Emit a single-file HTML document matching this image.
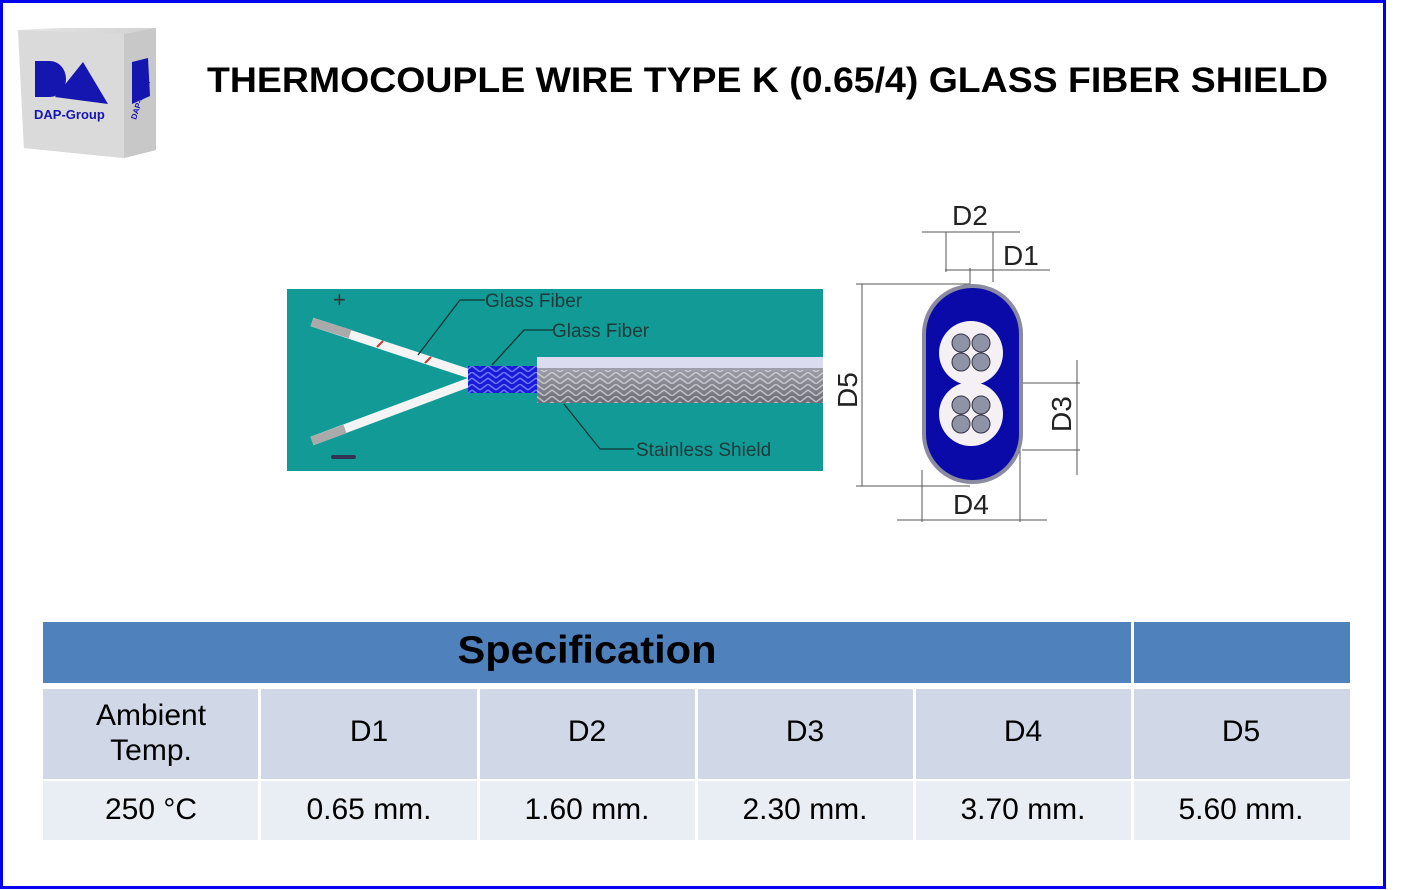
<!DOCTYPE html>
<html><head><meta charset="utf-8"><style>
body{margin:0;width:1408px;height:890px;background:#fff;overflow:hidden;font-family:"Liberation Sans",sans-serif}
svg{position:absolute;left:0;top:0}
</style></head><body>
<svg width="1408" height="890" viewBox="0 0 1408 890" font-family="Liberation Sans, sans-serif">
<defs>
<pattern id="hb" width="16" height="12" patternUnits="userSpaceOnUse">
<path d="M0 6 L8 0 M8 0 L16 6 M0 12 L8 6 M8 6 L16 12" stroke="#ddd" stroke-width="1.5" fill="none"/>
</pattern>
<pattern id="hb2" width="16" height="12" patternUnits="userSpaceOnUse">
<path d="M0 6 L8 0 M8 0 L16 6 M0 12 L8 6 M8 6 L16 12" stroke="#6a7cff" stroke-width="1.5" fill="none"/>
</pattern>
<linearGradient id="gs" x1="0" y1="0" x2="0" y2="1"><stop offset="0" stop-color="#b0b0bc"/><stop offset="1" stop-color="#6c6c78"/></linearGradient>
<linearGradient id="cube" x1="0" y1="0" x2="1" y2="1"><stop offset="0" stop-color="#e6e6e6"/><stop offset="1" stop-color="#bdbdbd"/></linearGradient>
</defs>
<rect x="1.5" y="1.5" width="1383" height="886" fill="none" stroke="#0000ee" stroke-width="3"/>
<!-- logo cube -->
<polygon points="18,30 60,28 156,28 156,150 124,158 24,148" fill="url(#cube)"/>
<polygon points="124,34 156,28 156,150 124,158" fill="#c8c8c8"/>
<polygon points="18,30 124,34 124,158 24,148" fill="#dadada"/>
<path d="M35 61 h15 a16 18 0 0 1 0 36 h-15z" fill="#1515b0"/>
<polygon points="55,97 83,62 108,104" fill="#1515b0"/>
<text x="34" y="119" font-size="13" font-weight="bold" fill="#1515b0">DAP-Group</text>
<polygon points="132,62 148,58 150,96 132,104" fill="#1515b0"/>
<text x="0" y="0" font-size="8" font-weight="bold" fill="#1515b0" transform="translate(136,120) rotate(-72)">DAP-Group</text>
<text x="207" y="92" font-size="35" font-weight="bold" fill="#000" textLength="1121" lengthAdjust="spacingAndGlyphs">THERMOCOUPLE WIRE TYPE K (0.65/4) GLASS FIBER SHIELD</text>
<!-- wire diagram -->
<rect x="287" y="289" width="536" height="182" fill="#129b96"/>
<line x1="312" y1="322" x2="470" y2="374" stroke="#f4f4f4" stroke-width="9"/>
<line x1="312" y1="322" x2="350" y2="334" stroke="#aaa" stroke-width="9"/>
<line x1="312" y1="441" x2="470" y2="382" stroke="#f4f4f4" stroke-width="9"/>
<line x1="312" y1="441" x2="345" y2="429" stroke="#aaa" stroke-width="9"/>
<line x1="377" y1="347" x2="383" y2="341" stroke="#c33" stroke-width="2"/>
<line x1="425" y1="363" x2="431" y2="357" stroke="#c33" stroke-width="2"/>
<rect x="468" y="366" width="69" height="27" fill="#1a1ad8"/>
<rect x="468" y="366" width="69" height="27" fill="url(#hb2)"/>
<rect x="537" y="357" width="286" height="46" fill="url(#gs)"/>
<rect x="537" y="370" width="286" height="33" fill="url(#hb)" opacity="0.7"/>
<rect x="537" y="357" width="286" height="11" fill="#dcdcf0"/>
<text x="333" y="307" font-size="22" fill="#333">+</text>
<rect x="331" y="455" width="25" height="4" rx="2" fill="#335"/>
<g stroke="#133" stroke-width="1.3" fill="none">
<polyline points="485,300 460,300 418,355"/>
<polyline points="553,330 524,330 492,365"/>
<polyline points="564,404 600,449 634,449"/>
</g>
<g font-size="19" fill="#1d3a3a">
<text x="485" y="307">Glass Fiber</text>
<text x="552" y="337">Glass Fiber</text>
<text x="636" y="456">Stainless Shield</text>
</g>
<!-- cross section -->
<g stroke="#555" stroke-width="1" fill="none">
<line x1="922" y1="232" x2="1020" y2="232"/><line x1="946" y1="232" x2="946" y2="272"/><line x1="993" y1="232" x2="993" y2="282"/>
<line x1="945" y1="270" x2="1050" y2="270"/><line x1="970" y1="268" x2="970" y2="290"/>
<line x1="856" y1="284" x2="970" y2="284"/><line x1="862" y1="284" x2="862" y2="486"/><line x1="856" y1="486" x2="970" y2="486"/>
<line x1="1020" y1="383" x2="1080" y2="383"/><line x1="1022" y1="450" x2="1080" y2="450"/><line x1="1077" y1="360" x2="1077" y2="475"/>
<line x1="922" y1="470" x2="922" y2="522"/><line x1="1020" y1="450" x2="1020" y2="522"/><line x1="897" y1="520" x2="1047" y2="520"/>
</g>
<rect x="922" y="284" width="101" height="200" rx="50" fill="#8a8aa0"/>
<rect x="926" y="288" width="93" height="192" rx="46" fill="#0a0aa8"/>
<circle cx="971" cy="353" r="32" fill="#f4f0f4"/>
<circle cx="971" cy="414" r="32" fill="#f4f0f4"/>
<g fill="#8e94a6" stroke="#334" stroke-width="1">
<circle cx="961" cy="343" r="9"/><circle cx="981" cy="343" r="9"/><circle cx="961" cy="362" r="9"/><circle cx="981" cy="362" r="9"/>
<circle cx="961" cy="405" r="9"/><circle cx="981" cy="405" r="9"/><circle cx="961" cy="424" r="9"/><circle cx="981" cy="424" r="9"/>
</g>
<g font-size="28" fill="#222">
<text x="952" y="225">D2</text><text x="1003" y="265">D1</text><text x="953" y="514">D4</text>
<text transform="translate(857,408) rotate(-90)">D5</text>
<text transform="translate(1071,432) rotate(-90)">D3</text>
</g>
<!-- table -->
<rect x="43" y="622" width="1307" height="61" fill="#4f81bd"/>
<rect x="1131" y="622" width="3" height="61" fill="#fff"/>
<text x="587" y="663" font-size="39" font-weight="bold" text-anchor="middle" fill="#000" textLength="259" lengthAdjust="spacingAndGlyphs">Specification</text>
<rect x="43" y="689" width="1307" height="90" fill="#d0d8e8"/>
<rect x="43" y="781" width="1307" height="59" fill="#e9edf4"/>
<g fill="#fff">
<rect x="258" y="689" width="3" height="151"/><rect x="477" y="689" width="3" height="151"/><rect x="695" y="689" width="3" height="151"/><rect x="913" y="689" width="3" height="151"/><rect x="1131" y="689" width="3" height="151"/>
</g>
<g font-size="30" text-anchor="middle" fill="#000">
<text x="151" y="725">Ambient</text><text x="151" y="760">Temp.</text>
<text x="369" y="741">D1</text><text x="587" y="741">D2</text><text x="805" y="741">D3</text><text x="1023" y="741">D4</text><text x="1241" y="741">D5</text>
<text x="151" y="819">250 °C</text><text x="369" y="819">0.65 mm.</text><text x="587" y="819">1.60 mm.</text><text x="805" y="819">2.30 mm.</text><text x="1023" y="819">3.70 mm.</text><text x="1241" y="819">5.60 mm.</text>
</g>
</svg>
</body></html>
